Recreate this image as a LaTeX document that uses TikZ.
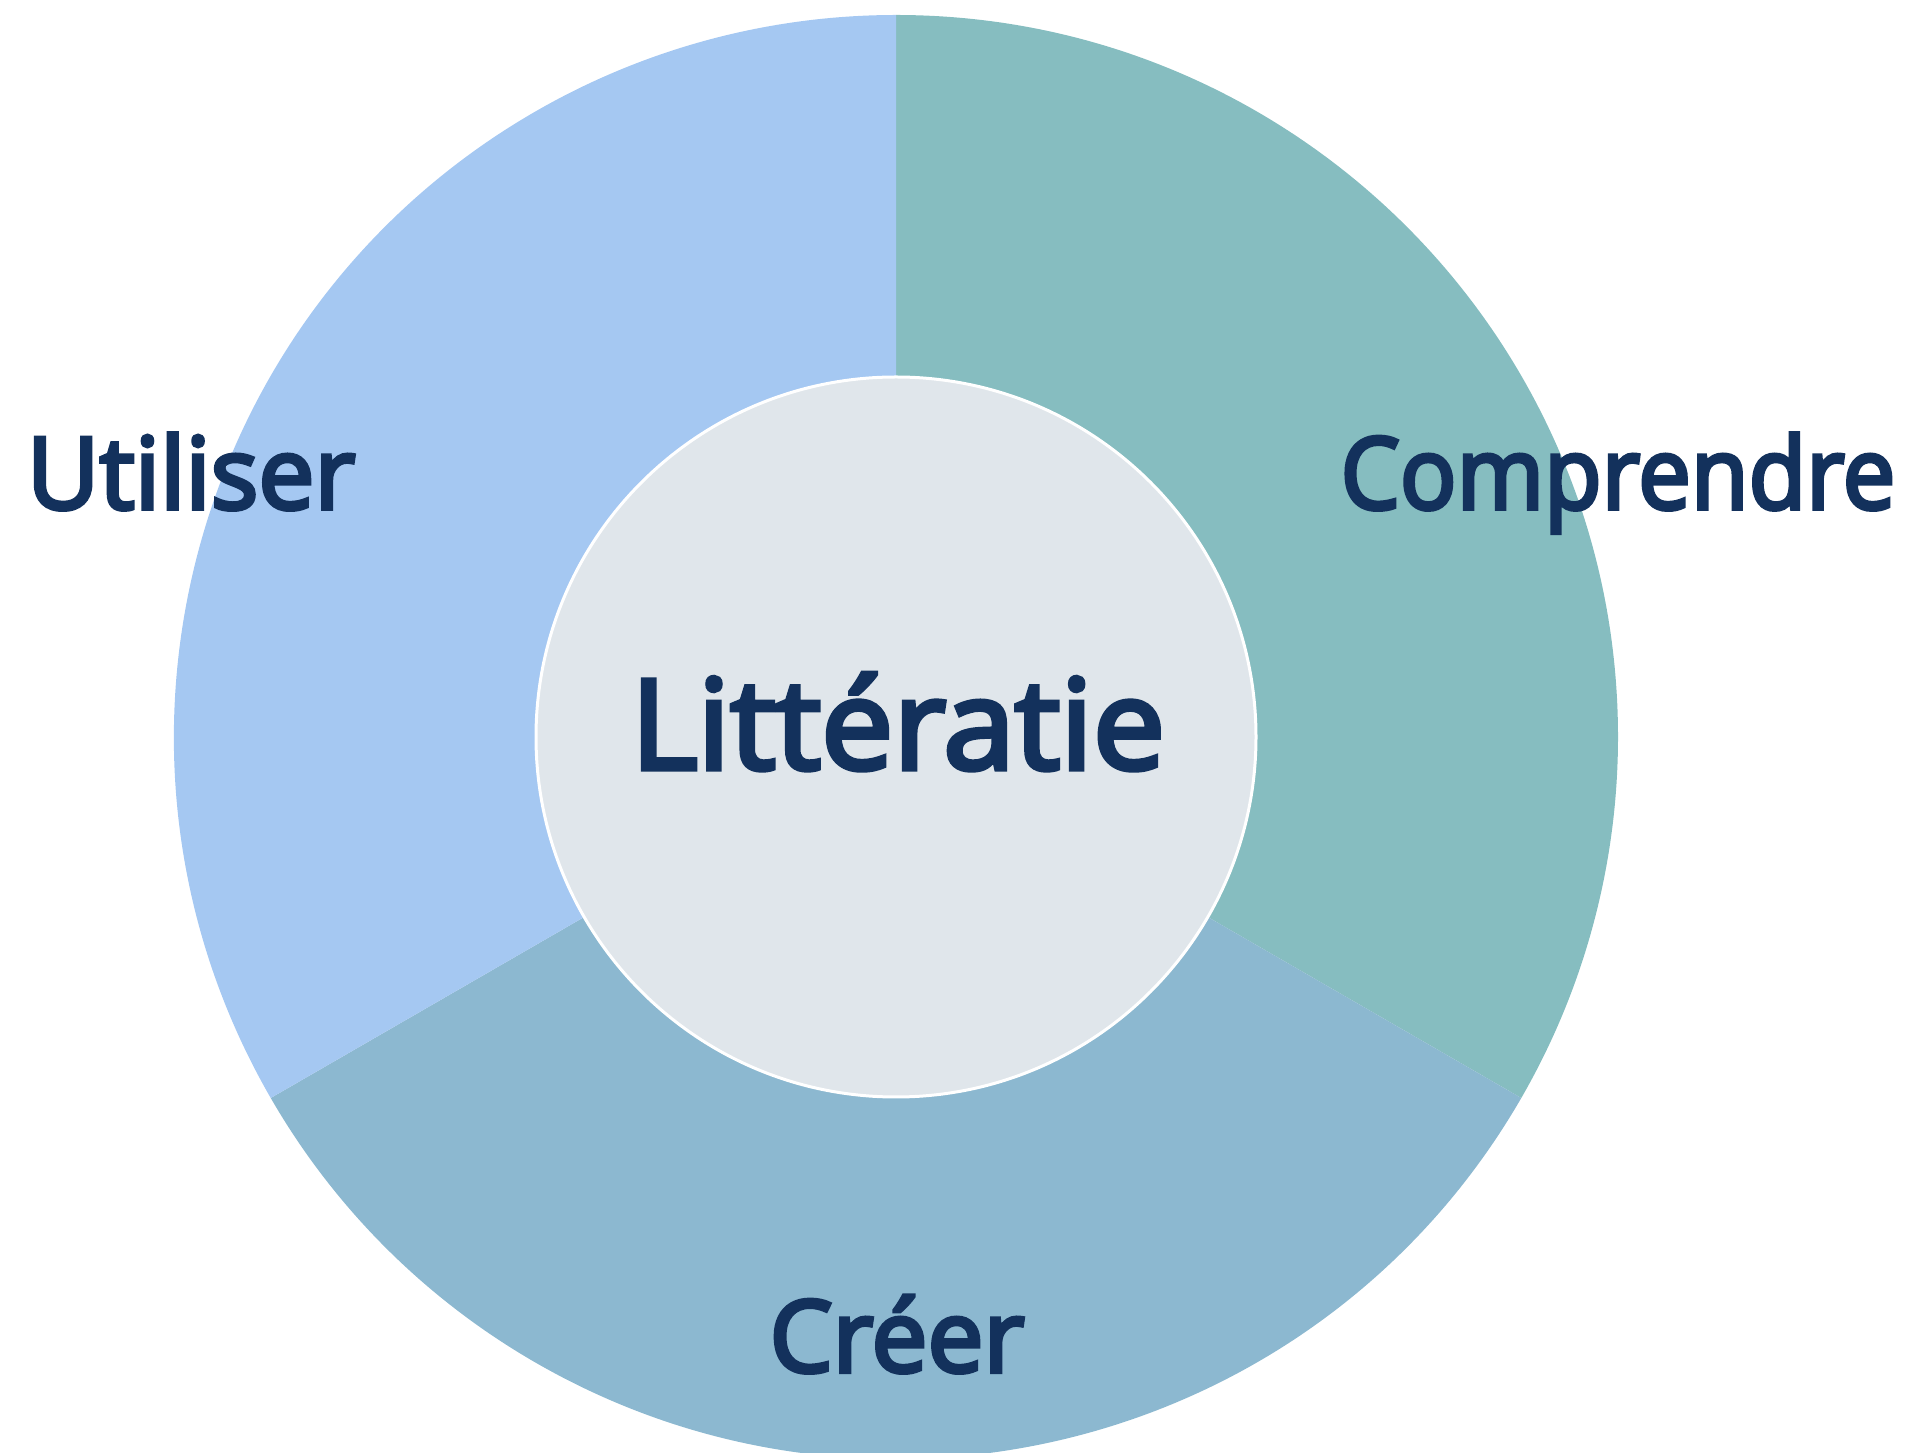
\documentclass[tikz,border=0pt]{standalone}
\usepackage{fontspec}
\setmainfont{Open Sans}[FakeBold=4]
\definecolor{compc}{HTML}{86BDC0}
\definecolor{crec}{HTML}{8CB8D0}
\definecolor{utic}{HTML}{A5C8F2}
\definecolor{corec}{HTML}{E0E6EB}
\definecolor{txtc}{HTML}{13315C}
\begin{document}
\begin{tikzpicture}[x=1pt,y=1pt,
  label/.style={text=txtc, inner sep=0pt, anchor=base, font=\fontsize{100}{100}\selectfont},
  core/.style={circle, fill=corec, draw=white, line width=3pt, minimum size=720pt, inner sep=0pt}]
\useasboundingbox (0,0) rectangle (1909,1452);
\clip (0,0) rectangle (1909,1452);
\coordinate (c) at (896,715);
\fill[compc] (c) -- ++(90:722) arc[start angle=90, end angle=-30, radius=722pt] -- cycle;
\fill[crec] (c) -- ++(-30:722) arc[start angle=-30, end angle=-150, radius=722pt] -- cycle;
\fill[utic] (c) -- ++(210:722) arc[start angle=210, end angle=90, radius=722pt] -- cycle;
\node[core] (core) at (c) {};
\node[label, font=\fontsize{125}{125}\selectfont] (lit) at (898,683) {\scalebox{1.03}[1]{Littératie}};
\node[label] (uti) at (191,943) {Utiliser};
\node[label] (comp) at (1618,943) {\scalebox{0.94}[1]{Comprendre}};
\node[label] (cre) at (897,80) {Créer};
\end{tikzpicture}
\end{document}
